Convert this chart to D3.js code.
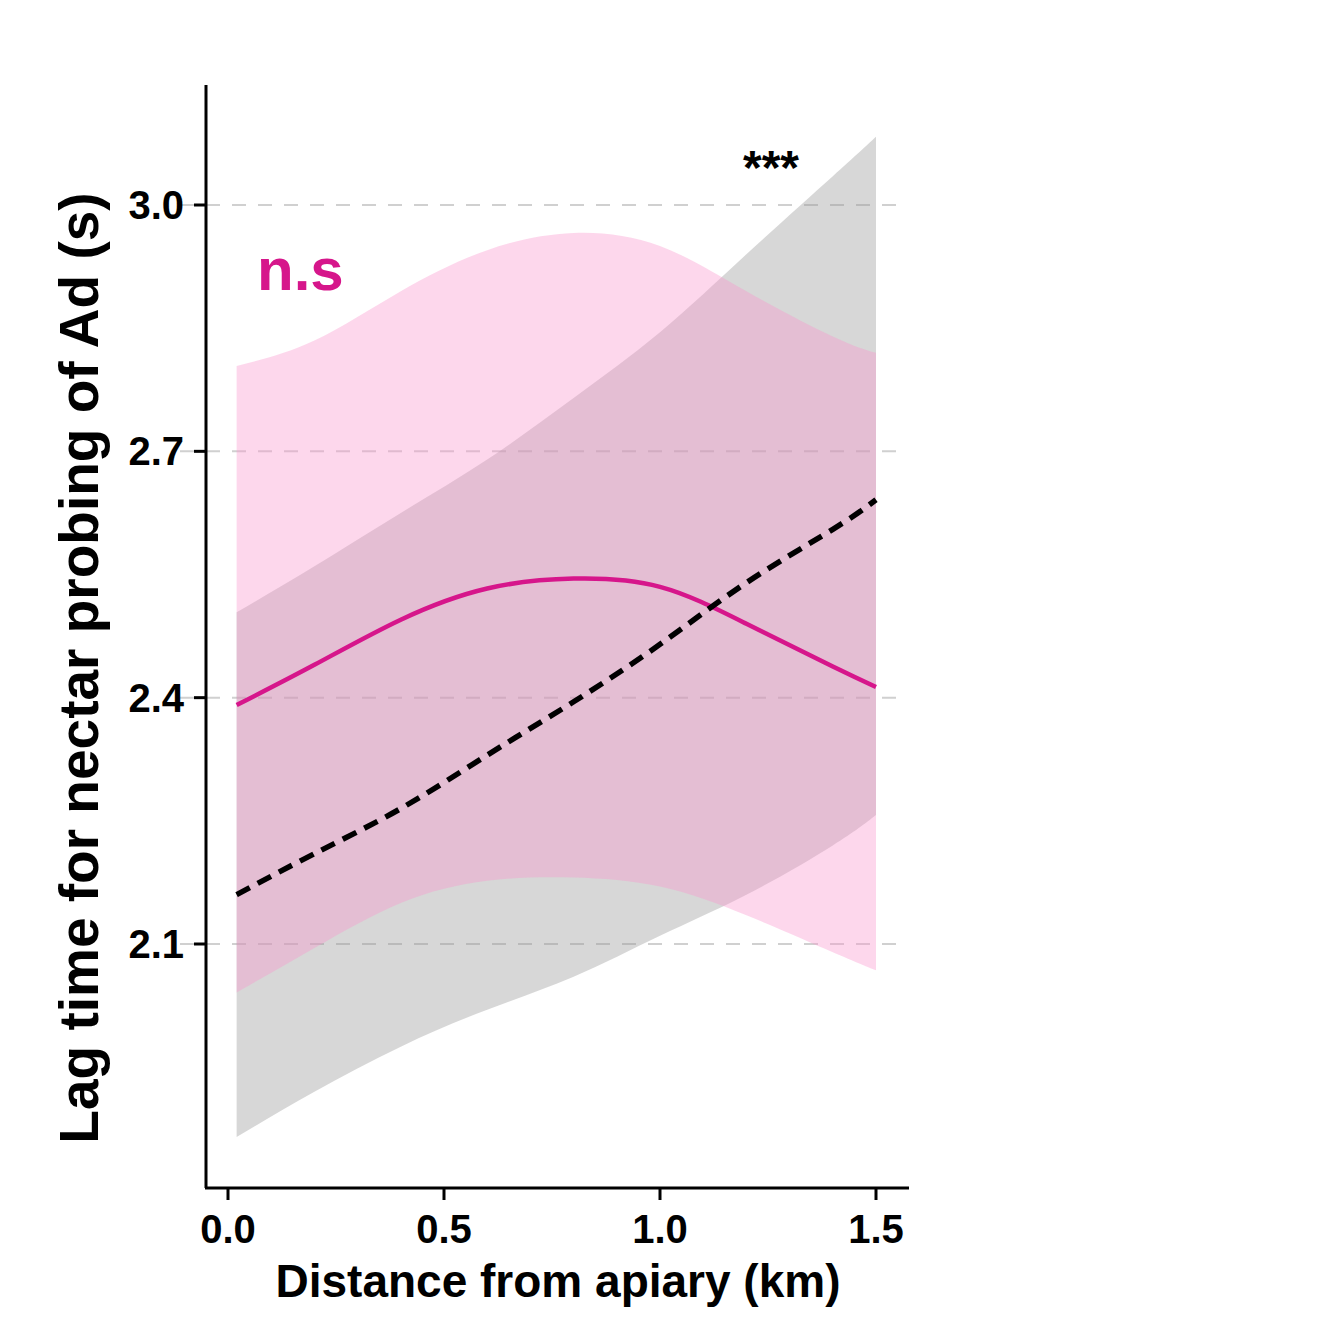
<!DOCTYPE html>
<html><head><meta charset="utf-8">
<script src="https://cdn.jsdelivr.net/npm/d3@7"></script>
<style>body{margin:0;background:#fff}text{font-family:"Liberation Sans",Arial,sans-serif;font-weight:bold}</style>
</head><body><svg id="c" width="1335" height="1326"></svg>
<script>
var xs = [0.02, 0.2, 0.4, 0.6, 0.8, 1.0, 1.2, 1.4, 1.5];
var pinkFit = [2.391, 2.44, 2.495, 2.533, 2.545, 2.535, 2.49, 2.438, 2.413];
var pinkHi = [2.804, 2.835, 2.895, 2.945, 2.966, 2.95, 2.895, 2.84, 2.82];
var pinkLo = [2.041, 2.095, 2.15, 2.177, 2.181, 2.17, 2.135, 2.09, 2.068];
var greyFit = [2.16, 2.21, 2.265, 2.33, 2.395, 2.465, 2.54, 2.605, 2.641];
var greyHi = [2.504, 2.56, 2.625, 2.69, 2.765, 2.845, 2.94, 3.035, 3.083];
var greyLo = [1.865, 1.92, 1.975, 2.02, 2.06, 2.11, 2.16, 2.22, 2.257];
var xTicks = [0, 0.5, 1.0, 1.5];
var yTicks = [2.1, 2.4, 2.7, 3.0];

var svg = d3.select('#c');
var x = d3.scaleLinear().domain([0, 1.5]).range([228, 876]);
var y = d3.scaleLinear().domain([2.1, 3.0]).range([944, 205]);

svg.selectAll('.g').data(yTicks).enter().append('line')
  .attr('x1', 180).attr('x2', 908).attr('y1', y).attr('y2', y)
  .attr('stroke', '#d0d0d0').attr('stroke-width', 2).attr('stroke-dasharray', '14,12');

function band(hi, lo) {
  return d3.area().curve(d3.curveNatural)
    .x(function(d, i){ return x(xs[i]); })
    .y0(function(d, i){ return y(lo[i]); })
    .y1(function(d, i){ return y(hi[i]); })(xs);
}
function line(v) {
  return d3.line().curve(d3.curveNatural)
    .x(function(d, i){ return x(xs[i]); })
    .y(function(d, i){ return y(v[i]); })(xs);
}
svg.append('path').attr('d', band(greyHi, greyLo)).attr('fill', 'rgb(150,150,150)').attr('fill-opacity', 0.38);
svg.append('path').attr('d', band(pinkHi, pinkLo)).attr('fill', 'rgb(250,150,205)').attr('fill-opacity', 0.38);
svg.append('path').attr('d', line(pinkFit)).attr('fill', 'none').attr('stroke', '#d6168b').attr('stroke-width', 4.5);
svg.append('path').attr('d', line(greyFit)).attr('fill', 'none').attr('stroke', '#000').attr('stroke-width', 5.5).attr('stroke-dasharray', '15,9');

svg.append('line').attr('x1', 206).attr('x2', 206).attr('y1', 85).attr('y2', 1188).attr('stroke', '#000').attr('stroke-width', 3);
svg.append('line').attr('x1', 205).attr('x2', 909).attr('y1', 1188).attr('y2', 1188).attr('stroke', '#000').attr('stroke-width', 3);
svg.selectAll('.xt').data(xTicks).enter().append('line')
  .attr('x1', x).attr('x2', x).attr('y1', 1188).attr('y2', 1200).attr('stroke', '#000').attr('stroke-width', 3);
svg.selectAll('.yt').data(yTicks).enter().append('line')
  .attr('x1', 194).attr('x2', 206).attr('y1', y).attr('y2', y).attr('stroke', '#000').attr('stroke-width', 3);
svg.selectAll('.xl').data(xTicks).enter().append('text')
  .attr('x', x).attr('y', 1243).attr('text-anchor', 'middle').attr('font-size', 40)
  .text(function(d){ return d.toFixed(1); });
svg.selectAll('.yl').data(yTicks).enter().append('text')
  .attr('x', 184).attr('y', function(d){ return y(d) + 14; }).attr('text-anchor', 'end').attr('font-size', 40)
  .text(function(d){ return d.toFixed(1); });
svg.append('text').attr('x', 558).attr('y', 1297).attr('text-anchor', 'middle').attr('font-size', 46)
  .text('Distance from apiary (km)');
svg.append('text').attr('transform', 'translate(98,668) rotate(-90)').attr('text-anchor', 'middle').attr('font-size', 55)
  .text('Lag time for nectar probing of Ad (s)');
svg.append('text').attr('x', 257).attr('y', 290).attr('font-size', 60).attr('fill', '#d6168b').text('n.s');
svg.append('text').attr('x', 771).attr('y', 184).attr('text-anchor', 'middle').attr('font-size', 48).text('***');
</script></body></html>
